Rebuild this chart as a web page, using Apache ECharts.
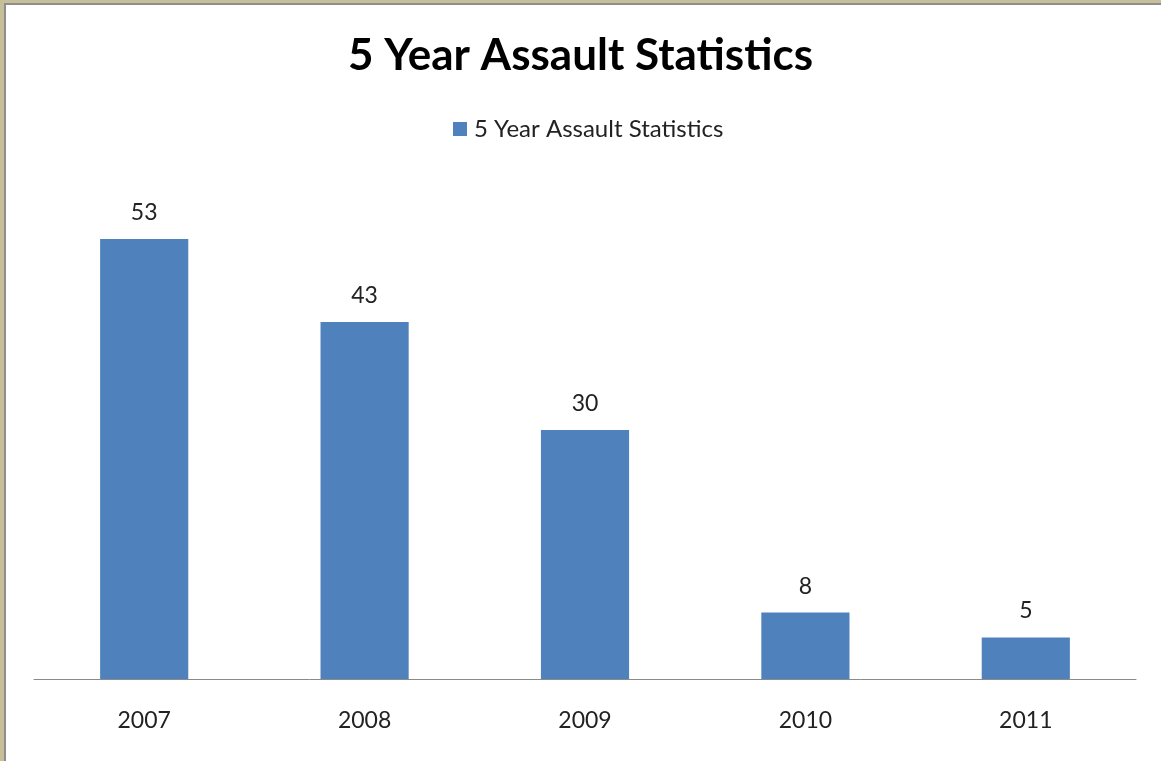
<!DOCTYPE html>
<html>
<head>
<meta charset="utf-8">
<script src="https://cdn.jsdelivr.net/npm/echarts@6/dist/echarts.min.js"></script>
<style>
  html, body { margin: 0; padding: 0; background: #ffffff; }
  #wrap { position: relative; width: 1161px; height: 761px; overflow: hidden; }
  #chart { position: absolute; left: 0; top: 0; width: 1161px; height: 761px; }
  .b { position: absolute; pointer-events: none; }
</style>
</head>
<body>
<div id="wrap">
  <div id="chart"></div>
  <div class="b" style="left:0;top:0;width:1161px;height:3px;background:#c6bf99;"></div>
  <div class="b" style="left:0;top:0;width:4px;height:761px;background:#c6bf99;"></div>
  <div class="b" style="left:4px;top:3px;width:1157px;height:2px;background:#8e8e8e;"></div>
  <div class="b" style="left:4px;top:3px;width:2px;height:758px;background:#8e8e8e;"></div>
</div>
<script>
const chartTitle = '5 Year Assault Statistics';
const seriesName = '5 Year Assault Statistics';
const years = ['2007', '2008', '2009', '2010', '2011'];
const assaults = [53, 43, 30, 8, 5];

const chart = echarts.init(document.getElementById('chart'), null, { renderer: 'canvas' });
const font = 'Lato, "Open Sans", sans-serif';
chart.setOption({
  backgroundColor: '#ffffff',
  animation: false,
  title: {
    text: chartTitle,
    left: 'center',
    top: 29,
    padding: [5, 0, 5, 10],
    textStyle: { fontFamily: font, fontSize: 44, fontWeight: 'bold', color: '#000000' }
  },
  legend: {
    data: [seriesName],
    left: 448,
    top: 112,
    icon: 'rect',
    itemWidth: 14,
    itemHeight: 14,
    itemGap: 6,
    textStyle: { fontFamily: font, fontSize: 24, color: '#222222', padding: [0, 0, 0, 2] }
  },
  grid: { left: 34, right: 25, top: 181, bottom: 82, containLabel: false },
  xAxis: {
    type: 'category',
    data: years,
    axisLine: { lineStyle: { color: '#8a8a8a', width: 1 } },
    axisTick: { show: false },
    axisLabel: { fontFamily: font, fontSize: 23, color: '#222222', margin: 30 }
  },
  yAxis: {
    type: 'value',
    min: 0,
    max: 60,
    show: false,
    splitLine: { show: false }
  },
  series: [{
    name: seriesName,
    type: 'bar',
    data: assaults,
    barCategoryGap: '60%',
    itemStyle: { color: '#4f81bd' },
    label: {
      show: true,
      position: 'top',
      distance: 15,
      fontFamily: font,
      fontSize: 23,
      color: '#222222'
    }
  }]
});
</script>
</body>
</html>
